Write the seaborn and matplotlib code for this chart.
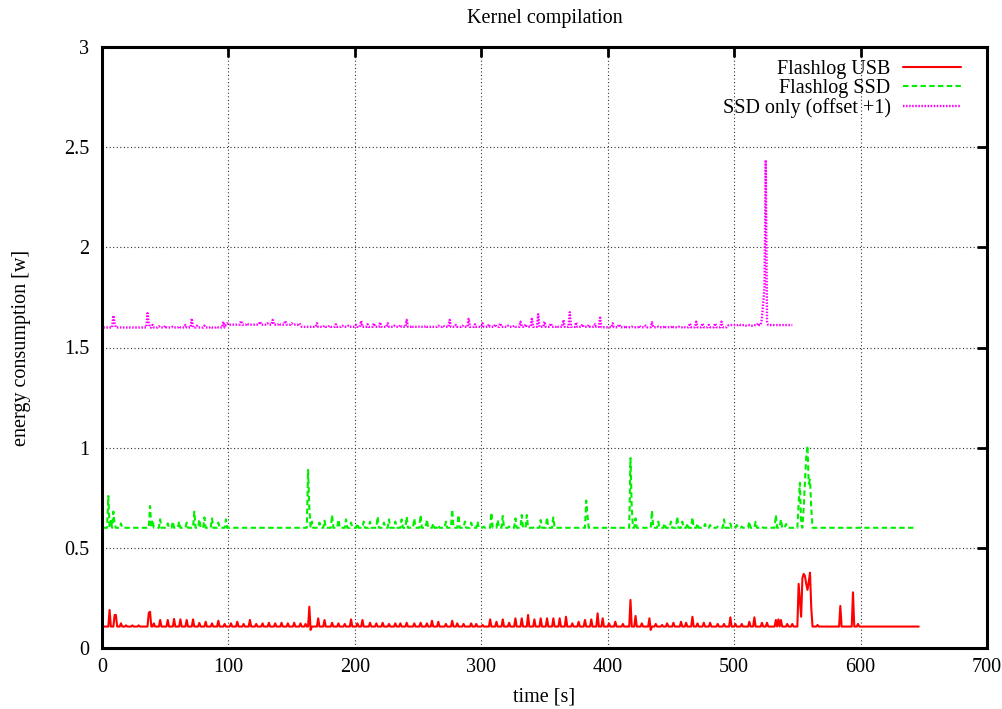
import numpy as np
import pandas as pd
import matplotlib
matplotlib.use("Agg")
import matplotlib.pyplot as plt
import seaborn as sns
from matplotlib.ticker import FormatStrFormatter

# ---------------------------------------------------------------
# Power samples (one per second) during a kernel compilation.
# Each trace is an idle level plus the readings that rise above it.
# ---------------------------------------------------------------

# Flashlog USB
usb_first, usb_last = 1, 646
usb_level = 0.107
usb_peak_t = [6, 10, 11, 15, 19, 24, 29, 37, 38, 41, 46, 52, 57, 62, 67, 72, 77, 82, 87, 92,
              97, 102, 107, 112, 117, 122, 127, 132, 137, 142, 147, 152, 157, 161, 164, 165,
              171, 176, 182, 187, 192, 197, 202, 206, 212, 217, 222, 227, 232, 236, 241, 247,
              252, 257, 261, 266, 272, 277, 281, 286, 292, 296, 301, 307, 312, 317, 322, 327,
              332, 337, 342, 347, 352, 357, 362, 367, 372, 377, 382, 387, 392, 396, 401, 406,
              412, 418, 422, 427, 433, 434, 438, 443, 447, 452, 458, 462, 467, 471, 476, 481,
              487, 492, 497, 501, 506, 512, 516, 522, 526, 533, 535, 537, 542, 546, 551, 552,
              553, 554, 555, 556, 557, 558, 559, 560, 561, 566, 584, 594, 598]
usb_peak_v = [0.19, 0.165, 0.165, 0.123, 0.113, 0.113, 0.113, 0.175, 0.181, 0.123, 0.14, 0.14,
              0.145, 0.143, 0.14, 0.143, 0.125, 0.131, 0.123, 0.136, 0.12, 0.123, 0.131, 0.12,
              0.14, 0.12, 0.123, 0.126, 0.123, 0.126, 0.123, 0.126, 0.123, 0.12, 0.206, 0.09,
              0.148, 0.14, 0.126, 0.123, 0.12, 0.143, 0.123, 0.14, 0.126, 0.123, 0.126, 0.12,
              0.123, 0.123, 0.126, 0.123, 0.126, 0.123, 0.136, 0.131, 0.12, 0.136, 0.123, 0.12,
              0.123, 0.12, 0.115, 0.143, 0.131, 0.143, 0.126, 0.148, 0.148, 0.165, 0.143, 0.148,
              0.148, 0.148, 0.148, 0.156, 0.123, 0.131, 0.14, 0.143, 0.173, 0.148, 0.123, 0.131,
              0.12, 0.24, 0.16, 0.123, 0.148, 0.09, 0.12, 0.115, 0.123, 0.126, 0.131, 0.126,
              0.156, 0.123, 0.126, 0.126, 0.12, 0.12, 0.153, 0.12, 0.12, 0.131, 0.153, 0.126,
              0.126, 0.14, 0.143, 0.14, 0.12, 0.12, 0.32, 0.24, 0.156, 0.35, 0.37, 0.36, 0.32,
              0.29, 0.33, 0.376, 0.2, 0.115, 0.21, 0.278, 0.12]

# Flashlog SSD
ssd_first, ssd_last = 1, 644
ssd_level = 0.600
ssd_peak_t = [5, 7, 9, 10, 15, 38, 40, 46, 52, 56, 61, 67, 73, 77, 81, 87, 92, 98, 163, 164,
              166, 172, 176, 182, 187, 193, 197, 202, 207, 212, 218, 223, 227, 232, 237, 241,
              247, 252, 257, 262, 266, 272, 277, 282, 287, 292, 297, 302, 308, 313, 317, 322,
              327, 332, 336, 342, 347, 352, 357, 383, 384, 418, 419, 422, 435, 440, 445, 450,
              455, 459, 463, 467, 471, 477, 481, 487, 492, 497, 502, 506, 512, 517, 522, 533,
              537, 541, 551, 552, 553, 555, 556, 557, 558, 559, 560, 561]
ssd_peak_v = [0.759, 0.639, 0.681, 0.62, 0.622, 0.709, 0.639, 0.642, 0.622, 0.631, 0.631, 0.626,
              0.681, 0.642, 0.652, 0.647, 0.626, 0.642, 0.889, 0.70, 0.631, 0.626, 0.636, 0.664,
              0.642, 0.642, 0.626, 0.622, 0.631, 0.631, 0.656, 0.626, 0.642, 0.631, 0.642, 0.656,
              0.647, 0.664, 0.642, 0.622, 0.614, 0.631, 0.692, 0.664, 0.631, 0.626, 0.631, 0.606,
              0.676, 0.639, 0.659, 0.606, 0.647, 0.664, 0.664, 0.606, 0.639, 0.652, 0.652, 0.736,
              0.66, 0.948, 0.70, 0.647, 0.686, 0.631, 0.622, 0.631, 0.656, 0.631, 0.622, 0.652,
              0.622, 0.619, 0.614, 0.606, 0.642, 0.622, 0.614, 0.606, 0.631, 0.631, 0.606, 0.664,
              0.642, 0.619, 0.72, 0.825, 0.62, 0.70, 0.82, 0.95, 1.01, 0.82, 0.84, 0.70]

# SSD only (drawn shifted up by one watt)
only_offset = 1.0
only_first, only_last = 1, 546
only_level_from = [1, 98, 158, 395, 496]
only_level_value = [0.600, 0.614, 0.603, 0.601, 0.612]
only_peak_t = [9, 10, 36, 37, 40, 45, 50, 56, 61, 66, 71, 75, 81, 86, 91, 96, 99, 110, 115, 125,
               131, 135, 140, 145, 150, 156, 170, 176, 180, 185, 190, 195, 201, 205, 210, 215,
               220, 226, 231, 236, 241, 245, 251, 256, 261, 266, 270, 275, 280, 285, 290, 295,
               301, 306, 311, 315, 321, 326, 331, 335, 340, 345, 350, 355, 360, 365, 370, 375,
               380, 385, 390, 394, 404, 409, 414, 419, 425, 430, 435, 440, 445, 451, 456, 460,
               465, 470, 475, 480, 485, 490, 495, 504, 509, 514, 519, 522, 523, 524, 525, 526]
only_peak_v = [0.659, 0.62, 0.671, 0.62, 0.613, 0.606, 0.609, 0.604, 0.606, 0.613, 0.645, 0.609,
               0.609, 0.604, 0.604, 0.629, 0.621, 0.633, 0.621, 0.629, 0.621, 0.638, 0.621, 0.633,
               0.621, 0.621, 0.621, 0.609, 0.609, 0.616, 0.609, 0.609, 0.613, 0.633, 0.616, 0.621,
               0.626, 0.621, 0.609, 0.613, 0.638, 0.609, 0.604, 0.609, 0.604, 0.609, 0.609, 0.638,
               0.613, 0.609, 0.643, 0.616, 0.621, 0.616, 0.616, 0.621, 0.609, 0.609, 0.629, 0.616,
               0.643, 0.666, 0.629, 0.621, 0.609, 0.638, 0.676, 0.626, 0.616, 0.613, 0.616, 0.649,
               0.621, 0.616, 0.609, 0.604, 0.609, 0.609, 0.626, 0.604, 0.609, 0.609, 0.604, 0.604,
               0.621, 0.629, 0.621, 0.613, 0.621, 0.629, 0.609, 0.616, 0.609, 0.609, 0.621, 0.646,
               0.72, 0.80, 1.436, 0.63]

series_names = ["Flashlog USB", "Flashlog SSD", "SSD only (offset +1)"]
x_ticks = [0, 100, 200, 300, 400, 500, 600, 700]
y_ticks = [0, 0.5, 1, 1.5, 2, 2.5, 3]


def trace(first, last, level_from, level_value, peak_t, peak_v):
    t = np.arange(first, last + 1)
    idx = np.searchsorted(level_from, t, side="right") - 1
    v = np.asarray(level_value, dtype=float)[idx]
    v[np.asarray(peak_t) - first] = peak_v
    return t, v


usb_t, usb_v = trace(usb_first, usb_last, [usb_first], [usb_level], usb_peak_t, usb_peak_v)
ssd_t, ssd_v = trace(ssd_first, ssd_last, [ssd_first], [ssd_level], ssd_peak_t, ssd_peak_v)
only_t, only_v = trace(only_first, only_last, only_level_from, only_level_value,
                       only_peak_t, only_peak_v)

df = pd.concat([
    pd.DataFrame({"time": usb_t, "power": usb_v, "series": series_names[0]}),
    pd.DataFrame({"time": ssd_t, "power": ssd_v, "series": series_names[1]}),
    pd.DataFrame({"time": only_t, "power": only_v + only_offset, "series": series_names[2]}),
], ignore_index=True)

sns.set_theme(style="white")
plt.rcParams["font.family"] = ["Liberation Serif", "DejaVu Serif"]
plt.rcParams.update({
    "text.color": "black",
    "axes.labelcolor": "black",
    "xtick.color": "black",
    "ytick.color": "black",
})

W, H = 1003, 709
FS = 14.5
fig = plt.figure(figsize=(W / 100, H / 100), dpi=100)
ax = fig.add_axes([102 / W, 61 / H, (987 - 102) / W, (648 - 47) / H])

styles = {
    series_names[0]: dict(color="#ff0000", linestyle="-", linewidth=1.5),
    series_names[1]: dict(color="#00f000", linestyle=(0, (2.6, 1.6)), linewidth=1.5),
    series_names[2]: dict(color="#ff00ff", linestyle=(0, (0.65, 0.65)), linewidth=1.7),
}
for name in series_names:
    sub = df[df["series"] == name]
    sns.lineplot(data=sub, x="time", y="power", ax=ax, label=name, estimator=None,
                 **styles[name])

ax.set_xlim(0, 700)
ax.set_ylim(0, 3)
ax.set_xticks(x_ticks)
ax.set_yticks(y_ticks)
ax.yaxis.set_major_formatter(FormatStrFormatter("%g"))
ax.grid(True, color="#333333", linestyle=(0, (1, 2.2)), linewidth=0.8)
ax.set_axisbelow(True)
for sp in ax.spines.values():
    sp.set_linewidth(2.2)
    sp.set_color("black")
ax.tick_params(direction="in", length=7, width=2, top=True, right=True,
               labelsize=FS, pad=9)
ax.tick_params(axis="x", pad=7)

ax.set_title("Kernel compilation", fontsize=FS, pad=17)
ax.set_xlabel("time [s]", fontsize=FS, labelpad=8)
ax.set_ylabel("energy consumption [w]", fontsize=FS, labelpad=24)

leg = ax.legend(loc="upper right", bbox_to_anchor=((961 - 102) / 885, (648 - 60) / 601),
                frameon=False, markerfirst=False, fontsize=FS, handlelength=2.9,
                handletextpad=0.6, labelspacing=0.0, borderpad=0, borderaxespad=0)

fig.savefig("out.png", dpi=100)
